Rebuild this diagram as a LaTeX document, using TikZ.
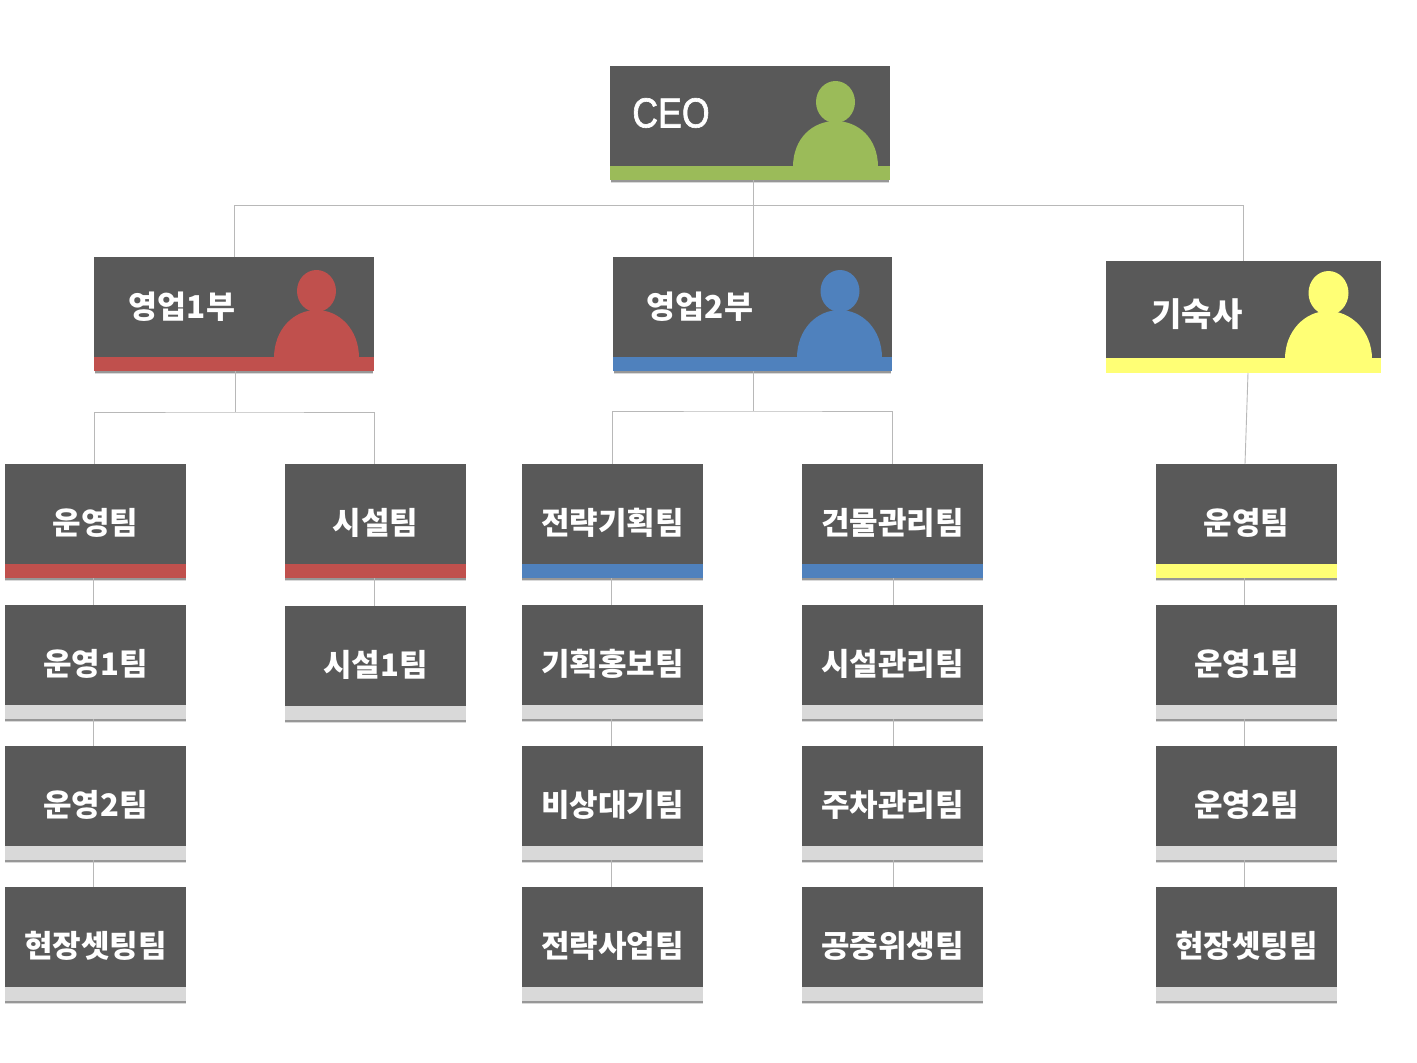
\documentclass[tikz,border=0pt]{standalone}
\usepackage{fontspec}
\setmainfont{Noto Sans CJK KR}
\newfontfamily\ceofont[FakeStretch=0.85,FakeBold=1.5]{Liberation Sans}
\usetikzlibrary{shadows}
\definecolor{darkbox}{HTML}{595959}
\definecolor{ceogreen}{HTML}{9BBB59}
\definecolor{salesred}{HTML}{C0504D}
\definecolor{salesblue}{HTML}{4F81BD}
\definecolor{dormyellow}{HTML}{FFFF75}
\definecolor{lowgray}{HTML}{D9D9D9}
\definecolor{wiregray}{HTML}{B8B8B8}
\tikzset{
	boxshadow/.style={
		drop shadow={shadow xshift=0pt,shadow yshift=-3.5pt,shadow scale=0.995,opacity=0.15,fill=black},
		drop shadow={shadow xshift=0pt,shadow yshift=-2pt,shadow scale=0.995,opacity=0.3,fill=black}},
	headbox/.style={rectangle,fill=darkbox,minimum width=280pt,minimum height=114pt,inner sep=0pt,outer sep=0pt},
	headbar/.style={rectangle,anchor=south,minimum width=280pt,minimum height=14pt,inner sep=0pt,outer sep=0pt},
	headtext/.style={text=white,font=\fontsize{31.5}{32}\selectfont\bfseries,inner sep=0pt},
	teambox/.style={rectangle,fill=darkbox,boxshadow,text=white,font=\fontsize{31}{31}\selectfont\bfseries,text depth=-6pt,minimum width=181pt,minimum height=114pt,inner sep=0pt,outer sep=0pt},
	teambar/.style={rectangle,anchor=south,minimum width=181pt,minimum height=14pt,inner sep=0pt,outer sep=0pt},
	wire/.style={draw=wiregray,line width=0.9pt}
}
\begin{document}
\begin{tikzpicture}[x=1pt,y=-1pt]
	\useasboundingbox (0,0) rectangle (1417,1063);
	% top boxes
	\node[headbox,boxshadow] (ceo) at (750,123) {};
	\node[headbar,fill=ceogreen] (ceobar) at (ceo.south) {};
	\node[headbox,boxshadow] (sales1) at (234,314) {};
	\node[headbar,fill=salesred] (sales1bar) at (sales1.south) {};
	\node[headbox,boxshadow,minimum width=279pt] (sales2) at (752.5,314) {};
	\node[headbar,fill=salesblue,minimum width=279pt] (sales2bar) at (sales2.south) {};
	\node[headbox,minimum width=275pt,minimum height=112pt] (dorm) at (1243.5,317) {};
	\node[headbar,fill=dormyellow,minimum width=275pt,minimum height=15pt] (dormbar) at (dorm.south) {};
	\node[headtext,font=\ceofont\fontsize{42}{42}\selectfont] (ceotext) at (671,113) {CEO};
	\node[headtext] (sales1text) at (182,307) {영업1부};
	\node[headtext] (sales2text) at (700,307) {영업2부};
	\node[headtext,font=\fontsize{33}{33}\selectfont\bfseries] (dormtext) at (1197,314) {기숙사};
	% persons
	\fill[ceogreen] (835.5,102) ellipse [x radius=19.5,y radius=21];
	\fill[ceogreen] (793,167) .. controls (793,138) and (813,121) .. (835.5,121) .. controls (858,121) and (878,138) .. (878,167) -- cycle;
	\fill[salesred] (316.5,291) ellipse [x radius=19.5,y radius=21];
	\fill[salesred] (274,358) .. controls (274,329) and (294,310) .. (316.5,310) .. controls (339,310) and (359,329) .. (359,358) -- cycle;
	\fill[salesblue] (840,291) ellipse [x radius=19.5,y radius=21];
	\fill[salesblue] (797,358) .. controls (797,329) and (817,310) .. (839.5,310) .. controls (862,310) and (882,329) .. (882,358) -- cycle;
	\fill[dormyellow] (1328.5,293) ellipse [x radius=20,y radius=22];
	\fill[dormyellow] (1285,359) .. controls (1285,331) and (1305,311) .. (1328,311) .. controls (1351,311) and (1372,331) .. (1372,359) -- cycle;
	% column 1
	\node[teambox] (ops) at (95.5,521) {운영팀};
	\node[teambar,fill=salesred] (opsbar) at (ops.south) {};
	\node[teambox] (ops1) at (95.5,662) {운영1팀};
	\node[teambar,fill=lowgray] (ops1bar) at (ops1.south) {};
	\node[teambox] (ops2) at (95.5,803) {운영2팀};
	\node[teambar,fill=lowgray] (ops2bar) at (ops2.south) {};
	\node[teambox] (setup) at (95.5,944) {현장셋팅팀};
	\node[teambar,fill=lowgray] (setupbar) at (setup.south) {};
	% column 2
	\node[teambox] (fac) at (375.5,521) {시설팀};
	\node[teambar,fill=salesred] (facbar) at (fac.south) {};
	\node[teambox] (fac1) at (375.5,663) {시설1팀};
	\node[teambar,fill=lowgray] (fac1bar) at (fac1.south) {};
	% column 3
	\node[teambox] (plan) at (612.5,521) {전략기획팀};
	\node[teambar,fill=salesblue] (planbar) at (plan.south) {};
	\node[teambox] (promo) at (612.5,662) {기획홍보팀};
	\node[teambar,fill=lowgray] (promobar) at (promo.south) {};
	\node[teambox] (standby) at (612.5,803) {비상대기팀};
	\node[teambar,fill=lowgray] (standbybar) at (standby.south) {};
	\node[teambox] (biz) at (612.5,944) {전략사업팀};
	\node[teambar,fill=lowgray] (bizbar) at (biz.south) {};
	% column 4
	\node[teambox] (bldg) at (892.5,521) {건물관리팀};
	\node[teambar,fill=salesblue] (bldgbar) at (bldg.south) {};
	\node[teambox] (site) at (892.5,662) {시설관리팀};
	\node[teambar,fill=lowgray] (sitebar) at (site.south) {};
	\node[teambox] (park) at (892.5,803) {주차관리팀};
	\node[teambar,fill=lowgray] (parkbar) at (park.south) {};
	\node[teambox] (hyg) at (892.5,944) {공중위생팀};
	\node[teambar,fill=lowgray] (hygbar) at (hyg.south) {};
	% column 5
	\node[teambox] (dops) at (1246.5,521) {운영팀};
	\node[teambar,fill=dormyellow] (dopsbar) at (dops.south) {};
	\node[teambox] (dops1) at (1246.5,662) {운영1팀};
	\node[teambar,fill=lowgray] (dops1bar) at (dops1.south) {};
	\node[teambox] (dops2) at (1246.5,803) {운영2팀};
	\node[teambar,fill=lowgray] (dops2bar) at (dops2.south) {};
	\node[teambox] (dsetup) at (1246.5,944) {현장셋팅팀};
	\node[teambar,fill=lowgray] (dsetupbar) at (dsetup.south) {};
	% bus lines
	\coordinate (ceobus) at (753,205.5);
	\coordinate (sales1bus) at (235,412);
	\coordinate (sales2bus) at (753.5,411);
	\draw[wire] (sales1.north) |- (ceobus) -| (dorm.north);
	\draw[wire] (ceobus |- ceo.south) -- (ceobus |- sales2.north);
	\draw[wire] ([xshift=-1pt]ops.north) |- (sales1bus) -| ([xshift=-1pt]fac.north);
	\draw[wire] (sales1bus |- sales1.south) -- (sales1bus);
	\draw[wire] (plan.north) |- (sales2bus) -| (bldg.north);
	\draw[wire] (sales2bus |- sales2.south) -- (sales2bus);
	\draw[wire] ([xshift=4.5pt]dorm.south) -- ([xshift=-1.5pt]dops.north);
	% team lines
	\draw[wire] ([xshift=-2pt]ops.south) -- ([xshift=-2pt]ops1.north);
	\draw[wire] ([xshift=-2pt]ops1.south) -- ([xshift=-2pt]ops2.north);
	\draw[wire] ([xshift=-2pt]ops2.south) -- ([xshift=-2pt]setup.north);
	\draw[wire] ([xshift=-1pt]fac.south) -- ([xshift=-1pt]fac1.north);
	\draw[wire] ([xshift=-1pt]plan.south) -- ([xshift=-1pt]promo.north);
	\draw[wire] ([xshift=-1pt]promo.south) -- ([xshift=-1pt]standby.north);
	\draw[wire] ([xshift=-1pt]standby.south) -- ([xshift=-1pt]biz.north);
	\draw[wire] ([xshift=1pt]bldg.south) -- ([xshift=1pt]site.north);
	\draw[wire] ([xshift=1pt]site.south) -- ([xshift=1pt]park.north);
	\draw[wire] ([xshift=1pt]park.south) -- ([xshift=1pt]hyg.north);
	\draw[wire] ([xshift=-2pt]dops.south) -- ([xshift=-2pt]dops1.north);
	\draw[wire] ([xshift=-2pt]dops1.south) -- ([xshift=-2pt]dops2.north);
	\draw[wire] ([xshift=-2pt]dops2.south) -- ([xshift=-2pt]dsetup.north);
\end{tikzpicture}
\end{document}
